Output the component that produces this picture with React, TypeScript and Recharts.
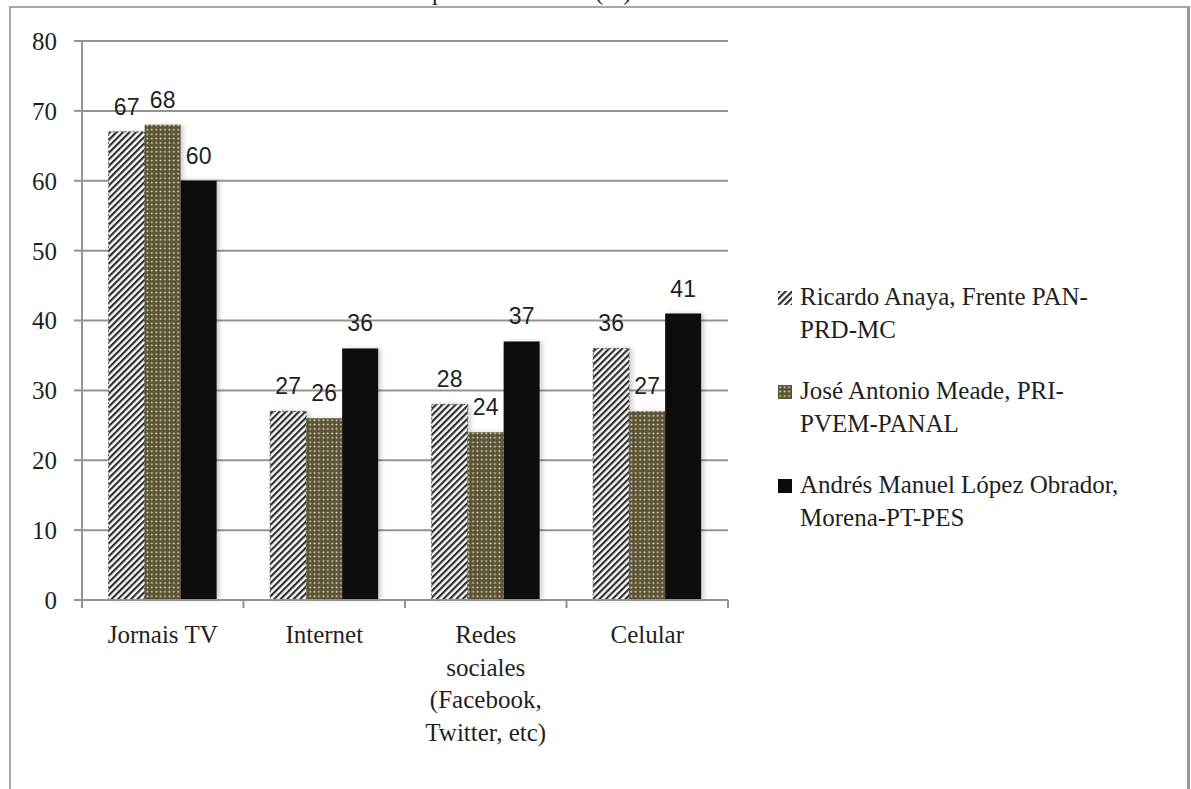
import React from 'react';
import {
  BarChart, Bar, XAxis, YAxis, CartesianGrid, Legend, LabelList,
} from 'recharts';

const categories = ['Jornais TV', 'Internet', 'Redes sociales (Facebook, Twitter, etc)', 'Celular'];
const anaya = [67, 27, 28, 36];
const meade = [68, 26, 24, 27];
const amlo = [60, 36, 37, 41];
const yTicks = [0, 10, 20, 30, 40, 50, 60, 70, 80];

const seriesNames = [
  'Ricardo Anaya, Frente PAN-PRD-MC',
  'José Antonio Meade, PRI-PVEM-PANAL',
  'Andrés Manuel López Obrador, Morena-PT-PES',
];
// legend lines, broken the way the chart sets them
const legendLines = [
  ['Ricardo Anaya, Frente PAN-', 'PRD-MC'],
  ['José Antonio Meade, PRI-', 'PVEM-PANAL'],
  ['Andrés Manuel López Obrador,', 'Morena-PT-PES'],
];

const data = categories.map((c, i) => ({
  name: c,
  anaya: anaya[i],
  meade: meade[i],
  amlo: amlo[i],
}));

const W = 1191;
const H = 789;
const M = { top: 41, right: 463, bottom: 159, left: 22 };
const Y_AXIS_W = 60;
const PLOT_W = W - M.left - M.right - Y_AXIS_W;
const BAND = PLOT_W / categories.length;

const SERIF = '"Liberation Serif", "Times New Roman", serif';
const SANS = '"Liberation Sans", Arial, sans-serif';
const AXIS = '#939393';
const INK = '#1f1f1f';

function wrap(text: string, max = 13): string[] {
  const out: string[] = [];
  let cur = '';
  for (const w of text.split(' ')) {
    if (!cur) cur = w;
    else if ((cur + ' ' + w).length <= max) cur += ' ' + w;
    else { out.push(cur); cur = w; }
  }
  if (cur) out.push(cur);
  return out;
}

function CategoryTick(props: any) {
  const { x, y, payload, index } = props;
  const lines = wrap(String(payload.value));
  const last = index === categories.length - 1;
  return (
    <g>
      <line x1={x - BAND / 2} x2={x - BAND / 2} y1={y} y2={y + 8} stroke={AXIS} strokeWidth={2} />
      {last && <line x1={x + BAND / 2} x2={x + BAND / 2} y1={y} y2={y + 8} stroke={AXIS} strokeWidth={2} />}
      <text x={x} y={y + 43} textAnchor="middle" fontFamily={SERIF} fontSize={25} fill={INK}>
        {lines.map((l, i) => (
          <tspan key={i} x={x} dy={i === 0 ? 0 : 32.5}>{l}</tspan>
        ))}
      </text>
    </g>
  );
}

const swatches = ['url(#hatch)', 'url(#dots)', '#0b0b0b'];

function SeriesLegend() {
  return (
    <div style={{ display: 'flex', flexDirection: 'column', gap: 28, textAlign: 'left' }}>
      {legendLines.map((lines, i) => (
        <div key={i} style={{ display: 'flex', alignItems: 'flex-start' }}>
          <svg width={15} height={15} style={{ marginTop: 11, marginRight: 7, flex: 'none' }}>
            <rect x={0} y={0} width={14} height={14} fill={swatches[i]} />
          </svg>
          <div style={{ fontFamily: SERIF, fontSize: 25, lineHeight: '33px', color: INK }}>
            {lines.map((l, j) => <div key={j}>{l}</div>)}
          </div>
        </div>
      ))}
    </div>
  );
}

export default function App() {
  return (
    <div style={{ position: 'fixed', left: 0, top: 0, width: W, height: H, overflow: 'hidden', background: '#fff' }}>
      <div style={{ position: 'absolute', left: 432, top: -22, fontFamily: SERIF, fontSize: 24, lineHeight: '28px', color: INK, whiteSpace: 'nowrap' }}>
        para se informar (%)
      </div>
      <div style={{ position: 'absolute', left: 9, top: 6, width: 1181, height: 900, boxSizing: 'border-box', borderTop: '2px solid #a8a8a8', borderLeft: '2px solid #a8a8a8', borderRight: '3px solid #999' }} />
      <div style={{ position: 'absolute', left: 0, top: 0 }}>
        <BarChart width={W} height={H} data={data} margin={M} barCategoryGap="16.5%" barGap={0}>
          <defs>
            <pattern id="hatch" patternUnits="userSpaceOnUse" width={4.6} height={4.6} patternTransform="rotate(45)">
              <rect width={4.6} height={4.6} fill="#fff" />
              <rect width={2.2} height={4.6} fill="#2e2e2e" />
            </pattern>
            <pattern id="dots" patternUnits="userSpaceOnUse" width={4.4} height={4.4}>
              <rect width={4.4} height={4.4} fill="#5b5536" />
              <circle cx={2.2} cy={2.2} r={0.95} fill="#e8e4cf" />
            </pattern>
            <filter id="barShadow" x="-10%" y="-5%" width="130%" height="110%">
              <feDropShadow dx={3} dy={0} stdDeviation={2} floodColor="#000" floodOpacity={0.18} />
            </filter>
          </defs>
          <CartesianGrid vertical={false} stroke={AXIS} strokeWidth={2} />
          <XAxis
            dataKey="name"
            stroke={AXIS}
            strokeWidth={2}
            tickLine={false}
            tickSize={0}
            tickMargin={0}
            interval={0}
            tick={<CategoryTick />}
          />
          <YAxis
            width={Y_AXIS_W}
            domain={[0, 80]}
            ticks={yTicks}
            interval={0}
            stroke={AXIS}
            strokeWidth={2}
            tickSize={8}
            tickMargin={17}
            tick={{ fontFamily: SERIF, fontSize: 25, fill: INK }}
          />
          <Legend
            layout="horizontal"
            align="center"
            verticalAlign="middle"
            wrapperStyle={{ left: 778, top: 280, width: 410 }}
            content={() => <SeriesLegend />}
          />
          <Bar dataKey="anaya" name={seriesNames[0]} fill="url(#hatch)" stroke="#555" strokeWidth={1} strokeDasharray="2 2" filter="url(#barShadow)" isAnimationActive={false}>
            <LabelList dataKey="anaya" position="top" offset={17} fill={INK} fontFamily={SANS} fontSize={23} />
          </Bar>
          <Bar dataKey="meade" name={seriesNames[1]} fill="url(#dots)" filter="url(#barShadow)" isAnimationActive={false}>
            <LabelList dataKey="meade" position="top" offset={17} fill={INK} fontFamily={SANS} fontSize={23} />
          </Bar>
          <Bar dataKey="amlo" name={seriesNames[2]} fill="#0b0b0b" filter="url(#barShadow)" isAnimationActive={false}>
            <LabelList dataKey="amlo" position="top" offset={17} fill={INK} fontFamily={SANS} fontSize={23} />
          </Bar>
        </BarChart>
      </div>
    </div>
  );
}
